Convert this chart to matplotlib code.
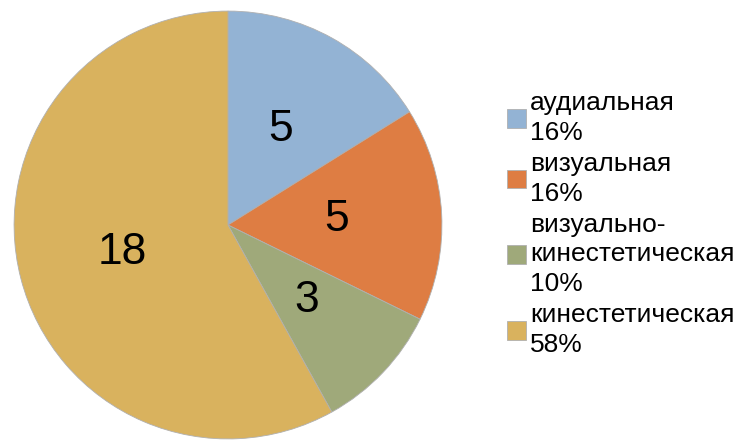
import matplotlib
matplotlib.use("Agg")
import matplotlib.pyplot as plt

categories = ["аудиальная", "визуальная", "визуально-\nкинестетическая", "кинестетическая"]
values = [5, 5, 3, 18]
colors = ["#93B3D4", "#DE7D43", "#9FA97A", "#D9B25E"]

plt.rcParams['font.family'] = ['Liberation Sans', 'DejaVu Sans']

W, H = 741, 442
fig = plt.figure(figsize=(W / 100, H / 100), dpi=100)
cx, cy, r = 228, 225, 215
ax = fig.add_axes([(cx - r) / W, (H - cy - r) / H, 2 * r / W, 2 * r / H])
wedges, texts = ax.pie(values, colors=colors, startangle=90, counterclock=False,
                       labels=[str(v) for v in values], labeldistance=0.51,
                       radius=1, wedgeprops=dict(linewidth=0.6, edgecolor="#b0b0b0"),
                       textprops=dict(fontsize=32, color="black"))
for t in texts:
    t.set_ha("center"); t.set_va("center")
ax.set_xlim(-1.005, 1.005)
ax.set_ylim(-1.005, 1.005)
ax.set_aspect("equal")
ax.axis("off")

total = sum(values)
leg_labels = [f"{c}\n{round(v / total * 100):.0f}%" for c, v in zip(categories, values)]
leg = fig.legend(wedges, leg_labels, loc="center left", bbox_to_anchor=(507 / W, 1 - 224 / H),
                 frameon=False, fontsize=19, handlelength=0.72, handleheight=0.72,
                 handletextpad=0.15, labelspacing=0.27, borderpad=0, borderaxespad=0)
for t in leg.get_texts():
    t.set_linespacing(1.3)

fig.savefig("out.png", dpi=100, facecolor="white")
